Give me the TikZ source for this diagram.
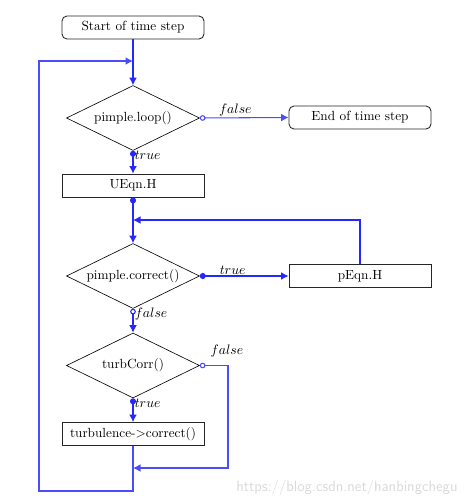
\documentclass[tikz,border=0pt]{standalone}
\usetikzlibrary{shapes.geometric,arrows.meta}
\begin{document}
\begin{tikzpicture}[x=0.8pt,y=-0.8pt,
  every node/.style={font=\fontsize{10.6}{12}\selectfont},
  proc/.style={draw=black!85, line width=0.7pt, minimum width=113.6pt, minimum height=18.4pt, inner sep=0pt},
  term/.style={proc, rounded corners=4pt},
  dec/.style={diamond, draw=black, line width=0.5pt, minimum width=106.4pt, minimum height=52pt, inner sep=0pt, aspect=2},
  conn/.style={draw=blue!85!white, line width=0.85pt},
  thin conn/.style={draw=blue!70!white, line width=0.85pt},
  tip/.style={-{Latex[length=6pt,width=6.2pt]}},
  dotted tip/.style={{Circle[length=4.8pt]}-{Latex[length=6pt,width=6.2pt]}},
  open tip/.style={{Circle[open,length=4.5pt,fill=white]}-{Latex[length=6pt,width=6.2pt]}},
  lbl/.style={inner sep=1pt}]
\useasboundingbox (0,0) rectangle (465,499);
% nodes
\node[term] (start) at (133,27.5) {Start of time step};
\node[dec]  (loop)  at (133,118) {pimple.loop()};
\node[term] (end)   at (360,117.5) {End of time step};
\node[proc] (ueqn)  at (133,185.5) {UEqn.H};
\node[dec]  (corr)  at (133,276) {pimple.correct()};
\node[proc] (peqn)  at (360,276) {pEqn.H};
\node[dec]  (turb)  at (133,365.5) {turbCorr()};
\node[proc] (tcor)  at (133,434) {turbulence->correct()};
% junctions
\coordinate (j1) at (133,61);
\coordinate (j2) at (133,220);
\coordinate (j3) at (133,468);
\coordinate (b1) at (133,491);
\coordinate (b2) at (39,491);
\coordinate (b3) at (39,61);
\coordinate (tr) at (228,468);
% connectors
\draw[conn,tip] (start.south) -- (loop.north);
\draw[thin conn,tip] (tcor.south) -- (b1) -- (b2) -- (b3) -- (j1);
\draw[thin conn,open tip] (loop.east) -- node[lbl,pos=0.4,above]{$false$} (end.west);
\draw[conn,dotted tip] (loop.south) -- node[lbl,pos=0.2,right]{$true$} (ueqn.north);
\draw[conn,dotted tip] (ueqn.south) -- (corr.north);
\draw[conn,dotted tip] (corr.east) -- node[lbl,pos=0.37,above]{$true$} (peqn.west);
\draw[conn,tip] (peqn.north) |- (j2);
\draw[conn,open tip] (corr.south) -- node[lbl,pos=0.2,right]{$false$} (turb.north);
\draw[thin conn,open tip] (turb.east) -| (tr) -- (j3);
\node[lbl,above] (tf) at (227,359) {$false$};
\draw[conn,dotted tip] (turb.south) -- node[lbl,pos=0.2,right]{$true$} (tcor.north);
% watermark
\node[text=black!15, font=\sffamily\large, anchor=east] (wm) at (462,488) {https://blog.csdn.net/hanbingchegu};
\end{tikzpicture}
\end{document}
